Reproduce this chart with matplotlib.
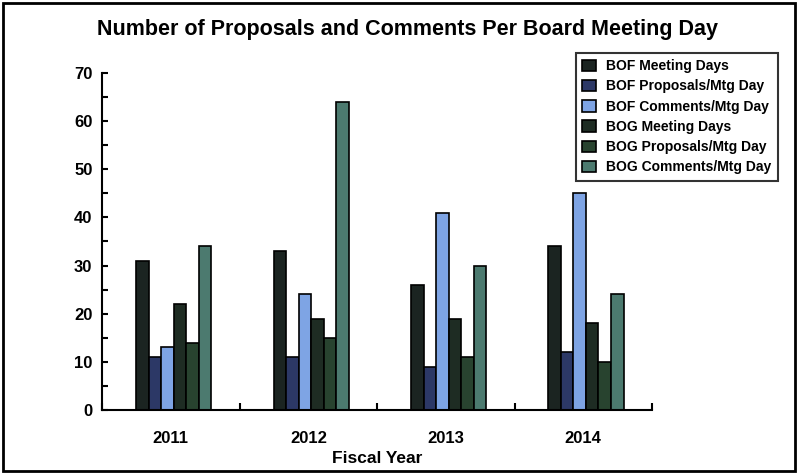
import matplotlib
matplotlib.use("Agg")
from matplotlib import pyplot as plt
from matplotlib.patches import Rectangle
import matplotlib.ticker as tick
import numpy as np

plt.rcParams['font.family'] = ['Liberation Sans', 'DejaVu Sans']
plt.rcParams['font.weight'] = 'bold'

years = ['2011', '2012', '2013', '2014']
series = ['BOF Meeting Days', 'BOF Proposals/Mtg Day', 'BOF Comments/Mtg Day',
          'BOG Meeting Days', 'BOG Proposals/Mtg Day', 'BOG Comments/Mtg Day']
bof_meetings = [31, 33, 26, 34]
bof_proposals = [11, 11, 9, 12]
bof_comments = [13, 24, 41, 45]
bog_meetings = [22, 19, 19, 18]
bog_proposals = [14, 15, 11, 10]
bog_comments = [34, 64, 30, 24]
colors = ['#1b2421', '#2c3866', '#7ea4e4', '#1e2c23', '#28432f', '#4c7a6f']

values = [bof_meetings, bof_proposals, bof_comments,
          bog_meetings, bog_proposals, bog_comments]

fig = plt.figure(figsize=(7.98, 4.73), dpi=100)
ax = fig.add_axes([0.128, 0.133, 0.689, 0.713])

x = np.arange(len(years))
w = 0.091
for i, (vals, name, c) in enumerate(zip(values, series, colors)):
    ax.bar(x + (i - 2.5) * w + 0.02, vals, w, color=c, edgecolor='black',
           linewidth=1.2, label=name)

ax.set_xlim(-0.5, 3.5)
ax.set_ylim(0, 70)
ax.set_xticks(x)
ax.set_xticklabels(years, fontsize=12, fontweight='bold')
ax.set_xticks(np.arange(-0.5, 4, 1), minor=True)
ax.tick_params(axis='x', which='major', length=0, pad=15)
ax.tick_params(axis='x', which='minor', direction='in', length=5, width=1.5)
ax.set_yticks(np.arange(0, 71, 10))
ax.yaxis.set_minor_locator(tick.MultipleLocator(5))
ax.tick_params(axis='y', which='both', direction='in', length=4, width=1.5,
               labelsize=12, pad=7)
for lbl in ax.get_yticklabels():
    lbl.set_fontweight('bold')
for s in ['top', 'right']:
    ax.spines[s].set_visible(False)
for s in ['left', 'bottom']:
    ax.spines[s].set_linewidth(1.5)

ax.set_xlabel('Fiscal Year', fontsize=12.5, fontweight='bold', labelpad=4)
fig.text(0.511, 0.937, 'Number of Proposals and Comments Per Board Meeting Day',
         ha='center', va='center', fontsize=15.5, fontweight='bold')

leg = fig.legend(loc='upper left', bbox_to_anchor=(0.722, 0.888),
                 prop={'size': 10, 'weight': 'bold'}, frameon=True,
                 fancybox=False, handlelength=1.0, handleheight=0.9,
                 labelspacing=0.45, borderpad=0.45, borderaxespad=0,
                 handletextpad=0.7)
leg.get_frame().set_edgecolor('black')
leg.get_frame().set_linewidth(1.5)

# outer frame
fig.add_artist(Rectangle((0.004, 0.004), 0.992, 0.99, transform=fig.transFigure,
                         fill=False, edgecolor='black', linewidth=2))

fig.savefig('out.png', dpi=100)
